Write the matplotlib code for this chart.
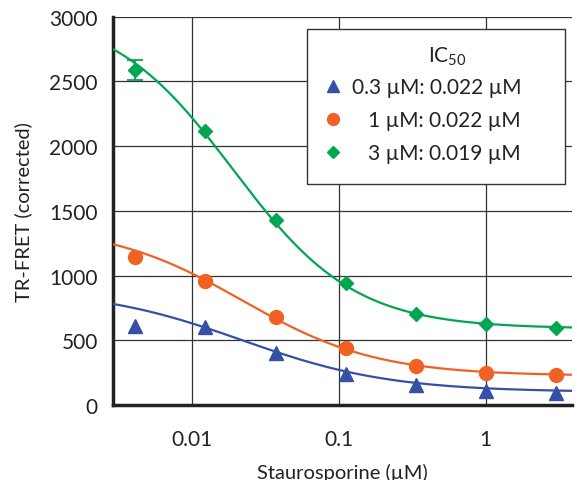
import numpy as np
import matplotlib
matplotlib.use("Agg")
import matplotlib.pyplot as plt
from matplotlib.patches import Rectangle

plt.rcParams['font.family'] = ['Lato', 'DejaVu Sans']
plt.rcParams['mathtext.default'] = 'regular'

# staurosporine dose (uM), 3-fold dilution
conc = [0.0041, 0.0123, 0.037, 0.111, 0.333, 1.0, 3.0]

blue_y   = [610, 600, 400, 240, 155, 108, 93]     # 0.3 uM
orange_y = [1140, 960, 680, 440, 305, 250, 235]   # 1 uM
green_y  = [2590, 2120, 1430, 940, 700, 625, 595] # 3 uM
green_err = [75, 0, 0, 0, 0, 0, 0]

labels = ['0.3 µM: 0.022 µM', '   1 µM: 0.022 µM', '   3 µM: 0.019 µM']

# 4PL fit parameters (top, bottom, IC50, hill)
fit_blue   = [900, 100, 0.022, 0.86]
fit_orange = [1390, 225, 0.022, 0.95]
fit_green  = [3050, 590, 0.019, 1.05]

c_blue, c_orange, c_green = '#3550a4', '#f26124', '#00a651'

def fourpl(x, p):
    top, bot, ic, h = p
    return bot + (top - bot) / (1 + (x / ic) ** h)

fig = plt.figure(figsize=(5.77, 4.81), dpi=100)
ax = fig.add_axes([0.196, 0.156, 0.795, 0.807])

xlo, xhi = 0.0029, 3.85
xx = np.geomspace(xlo, xhi, 300)

ax.plot(xx, fourpl(xx, fit_blue), color=c_blue, lw=1.6, zorder=3)
ax.plot(xx, fourpl(xx, fit_orange), color=c_orange, lw=1.6, zorder=3)
ax.plot(xx, fourpl(xx, fit_green), color=c_green, lw=1.6, zorder=3)

ax.plot(conc, blue_y, '^', color=c_blue, ms=10, ls='none', label=labels[0], zorder=4)
ax.plot(conc, orange_y, 'o', color=c_orange, ms=10, ls='none', label=labels[1], zorder=4)
ax.errorbar(conc[:1], green_y[:1], yerr=green_err[:1], fmt='none', ecolor=c_green,
            elinewidth=1.3, capsize=6, capthick=1.3, zorder=4)
ax.plot(conc, green_y, 'D', color=c_green, ms=7.5, ls='none', label=labels[2], zorder=4)

ax.set_xscale('log')
ax.set_xlim(xlo, xhi)
ax.set_ylim(0, 3000)
ax.set_xticks([0.01, 0.1, 1])
ax.set_xticklabels(['0.01', '0.1', '1'])
ax.xaxis.set_minor_locator(matplotlib.ticker.NullLocator())
ax.set_yticks(range(0, 3001, 500))

ax.grid(True, color='#333333', lw=0.9)
ax.set_axisbelow(True)
ax.tick_params(length=0, labelsize=15, colors='#222222')
ax.tick_params(axis='x', pad=17)
ax.tick_params(axis='y', pad=11)
for s in ['top', 'right']:
    ax.spines[s].set_visible(False)
for s in ['left', 'bottom']:
    ax.spines[s].set_linewidth(2.5)
    ax.spines[s].set_color('#222222')

ax.set_xlabel('Staurosporine (µM)', fontsize=14.5, color='#222222', labelpad=10)
ax.set_ylabel('TR-FRET (corrected)', fontsize=14.5, color='#222222', labelpad=12)

# legend box drawn separately (wider than the legend content)
box = Rectangle((0.4227, 0.5696), 0.562, 0.3994, transform=ax.transAxes,
                facecolor='white', edgecolor='#333333', lw=1.0, zorder=5)
ax.add_patch(box)
ax.text(0.7277, 0.8995, 'IC$_{50}$', transform=ax.transAxes, ha='center', va='center',
        fontsize=15, color='#222222', zorder=6)
leg = ax.legend(loc='upper left', bbox_to_anchor=(0.4567, 0.845),
                fontsize=15, frameon=False,
                borderpad=0, handletextpad=0.4, labelspacing=0.62,
                handlelength=1.0, markerscale=0.85, borderaxespad=0)
leg.set_zorder(6)
for t in leg.get_texts():
    t.set_color('#222222')

fig.savefig('out.png', dpi=100)
